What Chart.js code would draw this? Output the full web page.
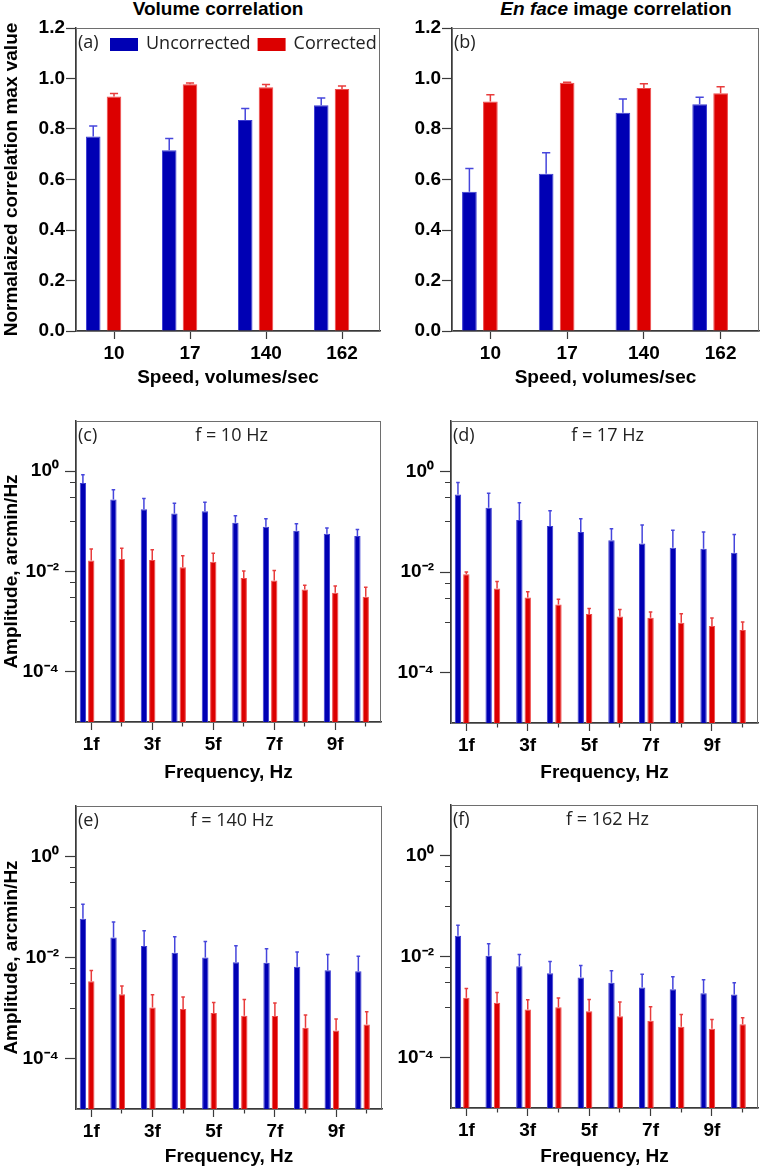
<!DOCTYPE html>
<html>
<head>
<meta charset="utf-8">
<script src="https://cdn.jsdelivr.net/npm/chart.js@4.4.1/dist/chart.umd.min.js"></script>
<style>
  body { margin: 0; background: #fff; width: 761px; height: 1170px; position: relative; overflow: hidden; }
  canvas { position: absolute; }
  .ttl { position: absolute; top: -2px; font: bold 19px "Liberation Sans", Arial, sans-serif; text-align: center; white-space: nowrap; }
</style>
</head>
<body>
<div class="ttl" style="left:88px;width:260px;">Volume correlation</div>
<div class="ttl" style="left:476px;width:280px;"><i>En face</i> image correlation</div>
<canvas id="pa" width="385" height="390" style="left:0;top:0"></canvas>
<canvas id="pb" width="376" height="390" style="left:385px;top:0"></canvas>
<canvas id="pc" width="385" height="395" style="left:0;top:390px"></canvas>
<canvas id="pd" width="376" height="395" style="left:385px;top:390px"></canvas>
<canvas id="pe" width="385" height="390" style="left:0;top:780px"></canvas>
<canvas id="pf" width="376" height="390" style="left:385px;top:780px"></canvas>
<script>
// values (bar tops and upper ends of the error bars)
var speeds = ['10', '17', '140', '162'];
var harmonics = ['1f', '2f', '3f', '4f', '5f', '6f', '7f', '8f', '9f', '10f'];

var volUnc   = [0.770, 0.716, 0.836, 0.894];
var volUncHi = [0.812, 0.762, 0.881, 0.923];
var volCor   = [0.929, 0.977, 0.965, 0.958];
var volCorHi = [0.941, 0.982, 0.976, 0.970];

var enfUnc   = [0.551, 0.623, 0.864, 0.898];
var enfUncHi = [0.644, 0.706, 0.919, 0.926];
var enfCor   = [0.909, 0.983, 0.962, 0.942];
var enfCorHi = [0.936, 0.985, 0.979, 0.967];

var f10Unc   = [0.579, 0.271, 0.175, 0.143, 0.159, 0.0937, 0.078, 0.065, 0.0568, 0.051];
var f10UncHi = [0.846, 0.428, 0.284, 0.230, 0.240, 0.129, 0.112, 0.0895, 0.0735, 0.069];
var f10Cor   = [0.0166, 0.0177, 0.0169, 0.0121, 0.0156, 0.00743, 0.00658, 0.00436, 0.00375, 0.00313];
var f10CorHi = [0.0282, 0.0291, 0.0270, 0.0205, 0.0232, 0.0102, 0.0105, 0.00532, 0.00516, 0.00485];

var f17Unc   = [0.346, 0.189, 0.108, 0.082, 0.0625, 0.0428, 0.0368, 0.0302, 0.0289, 0.0241];
var f17UncHi = [0.598, 0.368, 0.237, 0.165, 0.1146, 0.0727, 0.086, 0.0675, 0.0625, 0.0554];
var f17Cor   = [0.0090, 0.00469, 0.00311, 0.00226, 0.00146, 0.00131, 0.00124, 0.000984, 0.000847, 0.000706];
var f17CorHi = [0.0100, 0.00644, 0.00403, 0.00288, 0.00189, 0.00180, 0.00160, 0.00148, 0.00122, 0.00102];

var f140Unc   = [0.0586, 0.0249, 0.0168, 0.0124, 0.0100, 0.00808, 0.00783, 0.00653, 0.0056, 0.00535];
var f140UncHi = [0.113, 0.0504, 0.0339, 0.0258, 0.0208, 0.0171, 0.0149, 0.0128, 0.0115, 0.0106];
var f140Cor   = [0.00339, 0.00187, 0.00102, 0.000955, 0.000796, 0.000705, 0.000694, 0.000406, 0.00036, 0.000473];
var f140CorHi = [0.00552, 0.00274, 0.00184, 0.00166, 0.00128, 0.00147, 0.00126, 0.000726, 0.000604, 0.000845];

var f162Unc   = [0.0257, 0.0103, 0.00644, 0.00468, 0.00384, 0.00301, 0.00243, 0.00225, 0.00188, 0.00177];
var f162UncHi = [0.0417, 0.0178, 0.0110, 0.00796, 0.00664, 0.0052, 0.00447, 0.00395, 0.00345, 0.00301];
var f162Cor   = [0.00152, 0.00121, 0.000892, 0.000993, 0.000826, 0.000658, 0.000532, 0.000405, 0.00037, 0.000457];
var f162CorHi = [0.00232, 0.00194, 0.00139, 0.00150, 0.00141, 0.00125, 0.00101, 0.00071, 0.000565, 0.00061];

var linTicks = [0, 0.2, 0.4, 0.6, 0.8, 1.0, 1.2];
var logTicks = [1, 0.6, 0.3, 0.1, 0.01, 0.006, 0.003, 0.001, 0.0001];
var logLabels = { '1': '10\u2070', '0.01': '10\u207B\u00B2', '0.0001': '10\u207B\u2074' };

var BLUE = '#0000b4', RED = '#dc0000';

Chart.defaults.font.family = '"Liberation Sans", Arial, sans-serif';
Chart.defaults.font.weight = 'bold';
Chart.defaults.font.size = 19;
Chart.defaults.color = '#000';

var frame = {
  id: 'frame',
  beforeDatasetsDraw: function(chart) {
    var a = chart.chartArea, ctx = chart.ctx;
    ctx.save();
    ctx.strokeStyle = '#6e6e6e';
    ctx.lineWidth = 1;
    ctx.strokeRect(Math.round(a.left) + 0.5, Math.round(a.top) + 0.5, Math.round(a.width) - 1, Math.round(a.height));
    ctx.restore();
  }
};

var errorBars = {
  id: 'errorBars',
  afterDatasetsDraw: function(chart) {
    var ctx = chart.ctx, y = chart.scales.y;
    chart.data.datasets.forEach(function(ds, i) {
      if (!ds.hi) return;
      chart.getDatasetMeta(i).data.forEach(function(bar, j) {
        var top = y.getPixelForValue(ds.hi[j]);
        var cap = bar.width * 0.28;
        ctx.save();
        ctx.strokeStyle = ds.errColor;
        ctx.lineWidth = 1.5;
        ctx.beginPath();
        ctx.moveTo(bar.x, bar.y);
        ctx.lineTo(bar.x, top);
        ctx.moveTo(bar.x - cap, top);
        ctx.lineTo(bar.x + cap, top);
        ctx.stroke();
        ctx.restore();
      });
    });
  }
};

function panelText(tag, note, legend) {
  return {
    id: 'panelText',
    afterDraw: function(chart) {
      var a = chart.chartArea, ctx = chart.ctx;
      ctx.save();
      ctx.font = '18px "Open Sans"';
      ctx.fillStyle = '#222';
      ctx.textBaseline = 'middle';
      ctx.textAlign = 'left';
      ctx.fillText(tag, a.left + 2, a.top + 15);
      if (note) {
        ctx.textAlign = 'center';
        ctx.fillText(note, (a.left + a.right) / 2 + 3, a.top + 15);
      }
      if (legend) {
        var x = a.left + 34;
        chart.data.datasets.slice(0, 2).forEach(function(ds) {
          ctx.fillStyle = ds.backgroundColor;
          ctx.fillRect(x, a.top + 10, 28, 13);
          ctx.fillStyle = '#222';
          ctx.textAlign = 'left';
          ctx.fillText(ds.label, x + 36, a.top + 16);
          x += 36 + ctx.measureText(ds.label).width + 7;
        });
      }
      ctx.restore();
    }
  };
}

function sets(unc, uncHi, cor, corHi, log) {
  var bp = log ? 0.76 : 0.70;
  return [
    { label: 'Uncorrected', data: unc, hi: uncHi, backgroundColor: BLUE, borderColor: '#3c3cd2',
      borderWidth: 1, errColor: '#4646dc', barPercentage: bp, categoryPercentage: 0.82 },
    { label: 'Corrected', data: cor, hi: corHi, backgroundColor: RED, borderColor: '#ee4c4c',
      borderWidth: 1, errColor: '#e83c3c', barPercentage: bp, categoryPercentage: 0.82 },
    // empty third slot keeps the red bar on the tick, as in the figure
    { label: '', data: unc.map(function() { return null; }), barPercentage: bp, categoryPercentage: 0.82 }
  ];
}

function panel(id, opt) {
  var c = document.getElementById(id);
  var left = parseInt(c.style.left), top = parseInt(c.style.top);
  var log = opt.log;
  var yScale = {
    min: log ? 1e-5 : 0,
    max: log ? 10 : 1.2,
    type: log ? 'logarithmic' : 'linear',
    border: { color: '#3a3a3a', width: 1.5 },
    grid: {
      drawOnChartArea: false, tickLength: log ? 11 : 10, tickColor: '#3a3a3a', tickWidth: 1.2,
      // shorter minor ticks on the log axis (the tick is stroked from its outer end)
      tickBorderDash: function(ctx) {
        if (!log || !ctx.tick) return [];
        return logLabels[String(ctx.tick.value)] ? [] : [0, 5, 30, 40];
      }
    },
    ticks: {
      autoSkip: false,
      padding: log ? 6 : 1,
      callback: function(v) {
        if (log) return logLabels[String(v)] || '';
        return v.toFixed(1);
      }
    },
    afterBuildTicks: function(s) {
      s.ticks = (log ? logTicks : linTicks).map(function(v) { return { value: v }; });
    },
    afterFit: function(s) { s.width = opt.area[0] - left; },
    title: { display: !!opt.yTitle, text: opt.yTitle || '', padding: 0 }
  };
  var xScale = {
    offset: true,
    border: { color: '#3a3a3a', width: 1.5 },
    grid: {
      drawOnChartArea: false, offset: false, tickLength: 8, tickColor: '#3a3a3a', tickWidth: 1.2,
      tickBorderDash: function(ctx) {
        return (opt.labels.length > 4 && ctx.index % 2) ? [4, 40] : [];
      }
    },
    ticks: {
      autoSkip: false, maxRotation: 0, padding: 3,
      callback: function(v, i) { return (opt.labels.length > 4 && i % 2) ? '' : opt.labels[i]; }
    },
    afterFit: function(s) { s.height = top + c.height - opt.area[3]; },
    title: { display: true, text: opt.xTitle, padding: { top: 0, bottom: opt.tb } }
  };
  return new Chart(c, {
    type: 'bar',
    data: { labels: opt.labels, datasets: opt.datasets },
    options: {
      responsive: false,
      animation: false,
      layout: { padding: { top: opt.area[1] - top, right: left + c.width - opt.area[2], left: 0, bottom: 0 } },
      plugins: { legend: { display: false }, tooltip: { enabled: false } },
      scales: { x: xScale, y: yScale }
    },
    plugins: [frame, errorBars, panelText(opt.tag, opt.note, opt.legend)]
  });
}

var speedTitle = 'Speed, volumes/sec', freqTitle = 'Frequency, Hz', ampTitle = 'Amplitude, arcmin/Hz';

panel('pa', { labels: speeds, datasets: sets(volUnc, volUncHi, volCor, volCorHi, false), area: [76, 28, 380, 331],
  yTitle: 'Normalaized correlation max value', xTitle: speedTitle, tb: 1, tag: '(a)', legend: true });
panel('pb', { labels: speeds, datasets: sets(enfUnc, enfUncHi, enfCor, enfCorHi, false), area: [452, 28, 759, 331],
  xTitle: speedTitle, tb: 1, tag: '(b)' });
panel('pc', { labels: harmonics, datasets: sets(f10Unc, f10UncHi, f10Cor, f10CorHi, true), area: [76, 421, 381, 722], log: true,
  yTitle: ampTitle, xTitle: freqTitle, tb: 1, tag: '(c)', note: 'f = 10 Hz' });
panel('pd', { labels: harmonics, datasets: sets(f17Unc, f17UncHi, f17Cor, f17CorHi, true), area: [451, 421, 758, 723], log: true,
  xTitle: freqTitle, tb: 1, tag: '(d)', note: 'f = 17 Hz' });
panel('pe', { labels: harmonics, datasets: sets(f140Unc, f140UncHi, f140Cor, f140CorHi, true), area: [76, 806, 382, 1109], log: true,
  yTitle: ampTitle, xTitle: freqTitle, tb: 2, tag: '(e)', note: 'f = 140 Hz' });
panel('pf', { labels: harmonics, datasets: sets(f162Unc, f162UncHi, f162Cor, f162CorHi, true), area: [451, 805, 758, 1108], log: true,
  xTitle: freqTitle, tb: 2, tag: '(f)', note: 'f = 162 Hz' });
</script>
</body>
</html>
